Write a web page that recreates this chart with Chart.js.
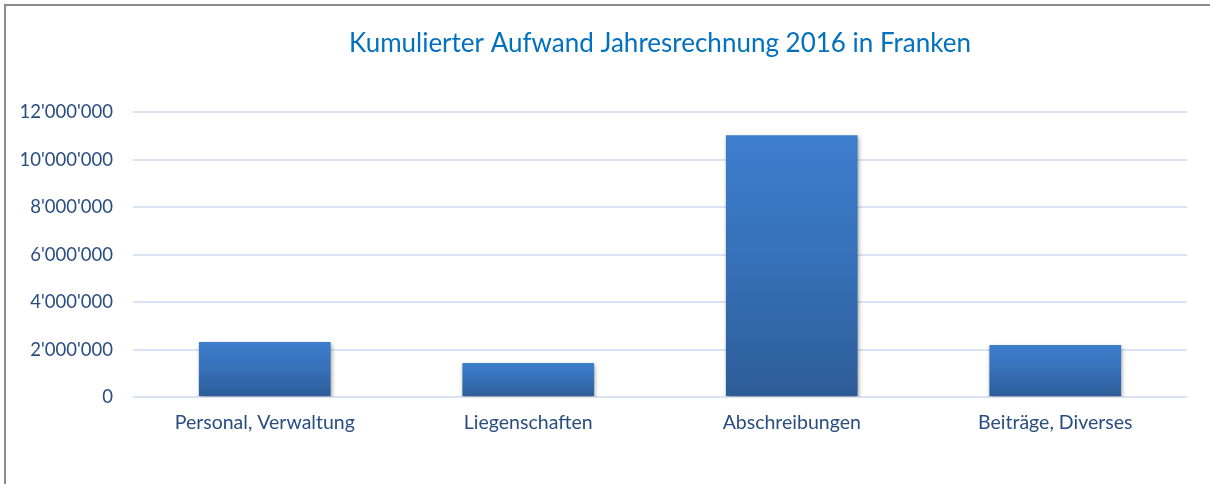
<!DOCTYPE html>
<html>
<head>
<meta charset="utf-8">
<script src="https://cdn.jsdelivr.net/npm/chart.js@4/dist/chart.umd.min.js"></script>
<style>
  html, body { margin: 0; padding: 0; background: #fff; }
  #wrap { position: relative; width: 1210px; height: 484px; overflow: hidden; }
  #frame { position: absolute; left: 4px; top: 4px; right: -4px; bottom: -4px; border-top: 2px solid #8c8c8c; border-left: 2px solid #8c8c8c; pointer-events: none; }
  canvas { position: absolute; left: 0; top: 0; }
</style>
</head>
<body>
<div id="wrap">
  <canvas id="c" width="1210" height="484"></canvas>
  <div id="frame"></div>
</div>
<script>
const titleText = 'Kumulierter Aufwand Jahresrechnung 2016 in Franken';
const categories = ['Personal, Verwaltung', 'Liegenschaften', 'Abschreibungen', 'Beiträge, Diverses'];
const aufwand = [2320000, 1430000, 11030000, 2190000];
const yTicks = [0, 2000000, 4000000, 6000000, 8000000, 10000000, 12000000];

function fmt(v) {
  return String(v).replace(/\B(?=(\d{3})+(?!\d))/g, "'");
}

const shadowPlugin = {
  id: 'barShadow',
  beforeDatasetsDraw(chart) {
    const ctx = chart.ctx;
    ctx.save();
    ctx.shadowColor = 'rgba(0,0,0,0.35)';
    ctx.shadowBlur = 4;
    ctx.shadowOffsetX = 1;
    ctx.shadowOffsetY = 2;
  },
  afterDatasetsDraw(chart) {
    chart.ctx.restore();
  }
};

new Chart(document.getElementById('c'), {
  type: 'bar',
  data: {
    labels: categories,
    datasets: [{
      data: aufwand,
      backgroundColor(context) {
        const chart = context.chart;
        const y = chart.scales && chart.scales.y;
        if (!chart.chartArea || !y || context.raw == null) return '#3671BA';
        const top = y.getPixelForValue(context.raw);
        const base = y.getPixelForValue(0);
        if (!isFinite(top) || !isFinite(base) || top === base) return '#3671BA';
        const g = chart.ctx.createLinearGradient(0, top, 0, base);
        g.addColorStop(0, '#3D7ECD');
        g.addColorStop(0.5, '#3670B7');
        g.addColorStop(1, '#2D5C98');
        return g;
      },
      borderWidth: 0,
      barPercentage: 0.5,
      categoryPercentage: 1.0
    }]
  },
  options: {
    responsive: false,
    animation: false,
    layout: { padding: { left: 0, right: 23, top: 0, bottom: 0 } },
    plugins: {
      legend: { display: false },
      tooltip: { enabled: false },
      title: {
        display: true,
        text: titleText,
        fullSize: false,
        color: '#0070C0',
        font: { family: 'Lato, "Open Sans", sans-serif', size: 26, weight: 'normal' },
        padding: { top: 28, bottom: 53 }
      }
    },
    scales: {
      x: {
        grid: { display: false, drawTicks: false },
        border: { display: false },
        ticks: {
          color: '#2A4D80',
          font: { family: 'Lato, "Open Sans", sans-serif', size: 19.5 },
          padding: 14
        },
        afterFit(scale) { scale.height = 87; }
      },
      y: {
        min: 0,
        max: 12000000,
        afterBuildTicks(scale) { scale.ticks = yTicks.map(v => ({ value: v })); },
        grid: { color: '#D9E3F3', lineWidth: 2, drawTicks: false },
        border: { display: false },
        ticks: {
          color: '#2A4D80',
          font: { family: 'Lato, "Open Sans", sans-serif', size: 18.5 },
          padding: 20,
          callback: v => fmt(v)
        },
        afterFit(scale) { scale.width = 133; }
      }
    }
  },
  plugins: [shadowPlugin]
});
</script>
</body>
</html>
